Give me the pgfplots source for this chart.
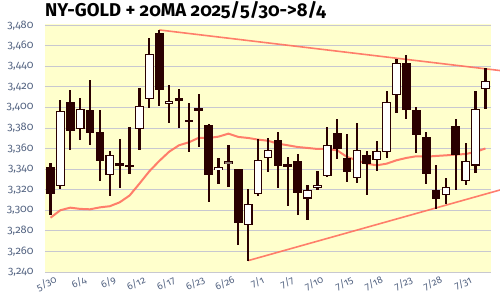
\documentclass[border=0pt]{standalone}
\usepackage{pgfplots}
\pgfplotsset{compat=1.18}
\usepackage{pgfplotstable}
\usepackage{fontspec}
\setmainfont{Fira Sans}[Numbers=OldStyle]
\definecolor{bgy}{RGB}{255,255,204}
\definecolor{gridc}{RGB}{200,200,208}
\definecolor{dk}{RGB}{42,0,0}
\definecolor{ma}{RGB}{255,112,96}
\definecolor{tickc}{RGB}{84,100,130}
\definecolor{grayb}{RGB}{140,122,112}

\pgfplotstableread{
i o h l c t
0 3342.2 3346.1 3295.2 3316.3 0
1 3323.4 3407.0 3320.5 3396.3 1
2 3405.1 3416.8 3358.4 3377.5 0
3 3378.8 3409.0 3368.1 3398.3 1
4 3397.3 3426.5 3363.3 3375.6 0
5 3375.9 3397.3 3328.9 3347.7 0
6 3334.1 3357.4 3313.7 3353.5 1
7 3345.0 3369.4 3322.1 3344.0 0
8 3343.8 3381.1 3335.7 3342.6 0
9 3378.8 3419.0 3359.1 3401.2 1
10 3408.0 3467.7 3400.0 3451.8 1
11 3472.2 3475.5 3401.5 3417.4 0
12 3403.6 3422.0 3385.3 3406.6 1
13 3408.7 3418.0 3380.1 3407.4 0
14 3387.5 3404.5 3356.8 3386.5 0
15 3399.6 3413.2 3362.0 3396.3 0
16 3382.7 3384.0 3308.5 3334.7 0
17 3339.0 3351.0 3325.7 3341.9 1
18 3347.7 3363.3 3323.1 3344.8 2
19 3340.2 3340.6 3266.6 3288.0 0
20 3285.4 3320.5 3251.1 3306.5 1
21 3315.6 3369.1 3314.0 3348.7 1
22 3351.0 3370.0 3337.7 3358.4 1
23 3368.5 3376.2 3322.1 3343.5 0
24 3344.0 3351.9 3304.6 3343.0 0
25 3348.0 3354.8 3295.8 3317.2 0
26 3311.4 3324.7 3291.0 3319.5 1
27 3322.0 3338.3 3320.0 3325.0 1
28 3333.4 3381.1 3332.5 3363.3 1
29 3374.9 3388.6 3350.0 3360.0 0
30 3351.0 3374.0 3327.9 3337.7 0
31 3331.2 3385.0 3326.9 3358.7 1
32 3353.5 3357.8 3314.6 3345.4 0
33 3348.7 3367.8 3338.0 3357.4 1
34 3356.8 3416.1 3351.3 3405.1 1
35 3411.9 3447.3 3395.0 3443.0 1
36 3443.0 3450.8 3389.2 3398.0 0
37 3397.3 3400.2 3356.1 3373.6 0
38 3371.0 3375.9 3326.0 3335.7 0
39 3319.5 3343.8 3301.0 3310.7 0
40 3315.0 3331.5 3306.5 3322.4 1
41 3381.8 3388.6 3320.0 3353.5 0
42 3328.6 3365.2 3325.0 3347.7 1
43 3343.5 3416.1 3336.0 3398.3 1
44 3417.7 3438.5 3398.9 3425.5 1
}\candles

\pgfplotstableread{
i m
0 3292.8
1 3300.1
2 3302.6
3 3301.4
4 3301.0
5 3302.9
6 3304.0
7 3307.8
8 3314.4
9 3326.0
10 3338.0
11 3348.0
12 3357.0
13 3363.3
14 3366.2
15 3370.6
16 3370.4
17 3371.7
18 3374.6
19 3371.4
20 3370.4
21 3368.8
22 3367.7
23 3364.9
24 3363.3
25 3361.6
26 3360.7
27 3359.7
28 3359.7
29 3358.4
30 3351.9
31 3348.7
32 3345.4
33 3343.8
34 3345.4
35 3348.7
36 3351.0
37 3352.6
38 3352.2
39 3352.9
40 3353.5
41 3354.2
42 3354.8
43 3356.8
44 3360.2
}\mav

\begin{document}
\begin{tikzpicture}
\begin{axis}[at={(0,0)}, anchor=south west, scale only axis,
  width=446pt, height=247.7pt,
  xmin=-0.556, xmax=44.56, ymin=3240, ymax=3481,
  clip=false,
  axis background/.style={fill=bgy},
  axis line style={draw=none},
  major tick length=0pt,
  ymajorgrids, grid style={gridc, line width=1pt},
  ytick={3240,3260,...,3480},
  scaled y ticks=false,
  yticklabel={\pgfmathprintnumber[assume math mode=true,1000 sep={,}]{\tick}},
  yticklabel style={font=\fontsize{11}{12}\selectfont, text=tickc, anchor=east, xshift=-8pt},
  xtick={0,3,...,42},
  xticklabels={5/30,6/4,6/9,6/12,6/17,6/23,6/26,7/1,7/7,7/10,7/15,7/18,7/23,7/28,7/31},
  xticklabel style={font=\fontsize{10}{11}\selectfont, text=tickc, rotate=25, anchor=north east, inner sep=1pt, xshift=3pt, yshift=-3pt},
  every error bar/.append style={},
]
% 20MA and trend lines
\addplot[ma, line width=2pt, opacity=0.9, mark=none] table[x=i, y=m] {\mav};
\addplot[ma, line width=1.6pt, opacity=0.9, mark=none] coordinates {(11,3475.5) (45.47,3436.0)};
\addplot[ma, line width=1.6pt, opacity=0.9, mark=none] coordinates {(20,3251.1) (45.47,3319.8)};
% wicks
\addplot[draw=none, mark=none,
  error bars/.cd, y dir=both, y explicit, error mark=none,
  error bar style={draw=dk, line width=2.2pt}]
  table[x=i, y expr={(\thisrow{h}+\thisrow{l})/2}, y error expr={(\thisrow{h}-\thisrow{l})/2}] {\candles};
% bodies (outer)
\addplot[draw=none, mark=none,
  error bars/.cd, y dir=both, y explicit, error mark=none,
  error bar style={draw=dk, line width=8.7pt}]
  table[x=i, y expr={(\thisrow{o}+\thisrow{c})/2}, y error expr={max(abs(\thisrow{o}-\thisrow{c})/2,1.3)}] {\candles};
% white inner
\addplot[draw=none, mark=none, restrict expr to domain={\thisrow{t}}{0.5:1.5},
  error bars/.cd, y dir=both, y explicit, error mark=none,
  error bar style={draw=white, line width=6.3pt}]
  table[x=i, y expr={(\thisrow{o}+\thisrow{c})/2}, y error expr={max(abs(\thisrow{o}-\thisrow{c})/2-1.1,0.3)}] {\candles};
% gray inner
\addplot[draw=none, mark=none, restrict expr to domain={\thisrow{t}}{1.5:2.5},
  error bars/.cd, y dir=both, y explicit, error mark=none,
  error bar style={draw=grayb, line width=6.3pt}]
  table[x=i, y expr={(\thisrow{o}+\thisrow{c})/2}, y error expr={max(abs(\thisrow{o}-\thisrow{c})/2-1.1,0.3)}] {\candles};
\end{axis}
\node[anchor=base west, inner sep=0pt, font=\bfseries\fontsize{18.5}{20}\selectfont] at (0pt,255pt) {NY-GOLD + 20MA 2025/5/30->8/4};
\pgfresetboundingbox
\path[use as bounding box] (-45pt,-28pt) rectangle (455pt,272pt);
\end{tikzpicture}
\end{document}
